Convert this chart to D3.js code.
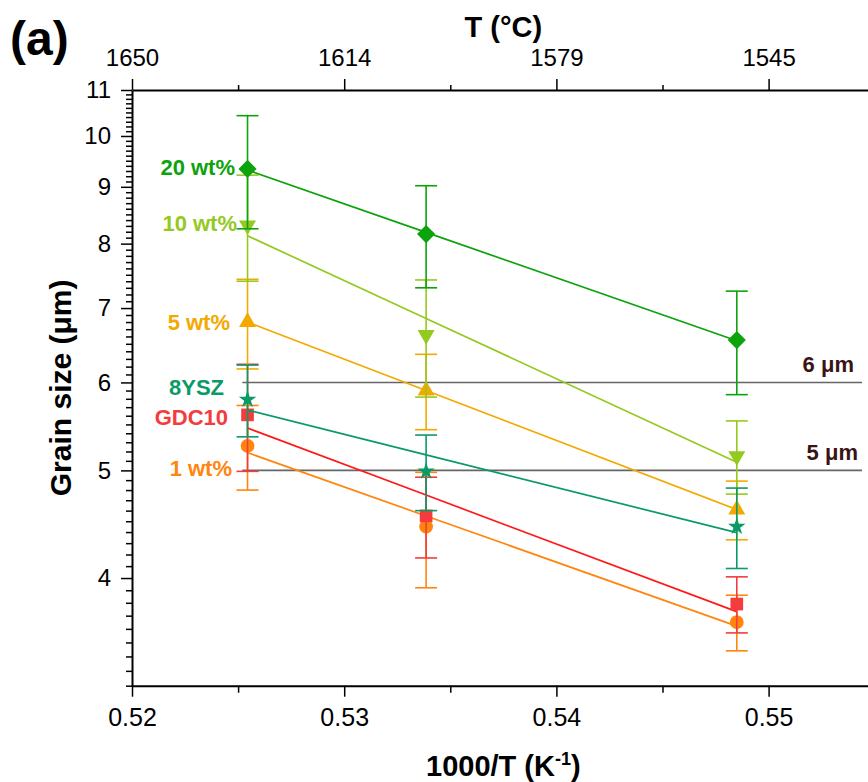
<!DOCTYPE html>
<html>
<head>
<meta charset="utf-8">
<script src="https://cdn.jsdelivr.net/npm/d3@7"></script>
<style>
  body { margin: 0; background: #fff; }
  svg { display: block; font-family: "Liberation Sans", Arial, sans-serif; }
</style>
</head>
<body>
<div id="chart"></div>
<script>
// sintering temperatures (°C)
const tempC = [1630, 1600, 1550];

// grain size (µm) and error, per composition
const seriesNames = ["1 wt%", "GDC10", "5 wt%", "10 wt%", "20 wt%", "8YSZ"];
const wt1 = [5.26, 4.45, 3.65];
const wt1Err = [0.46, 0.53, 0.21];
const gdc10 = [5.61, 4.55, 3.79];
const gdc10Err = [0.62, 0.38, 0.22];
const wt5 = [6.80, 5.90, 4.61];
const wt5Err = [0.63, 0.46, 0.28];
const wt10 = [8.31, 6.62, 5.15];
const wt10Err = [0.91, 0.80, 0.39];
const wt20 = [9.34, 8.16, 6.55];
const wt20Err = [1.09, 0.86, 0.70];
const ysz = [5.79, 4.99, 4.45];
const yszErr = [0.43, 0.39, 0.37];

// reference lines (µm)
const refLines = [6, 5];

// axis ticks
const xTicks = [0.52, 0.53, 0.54, 0.55];
const xMinor = [0.525, 0.535, 0.545, 0.555];
const yTicks = [4, 5, 6, 7, 8, 9, 10, 11];

// styles
const colors = {
  "1 wt%": "#ff850f",
  "GDC10": "#f43c3c",
  "5 wt%": "#f4a900",
  "10 wt%": "#94c91f",
  "20 wt%": "#0ca30c",
  "8YSZ": "#0a9a66"
};
const lineColors = Object.assign({}, colors, { "GDC10": "#ff1a1a" });
const shapes = {
  "1 wt%": { type: d3.symbolCircle, size: 150, rot: 0 },
  "GDC10": { type: d3.symbolSquare, size: 160, rot: 0 },
  "5 wt%": { type: d3.symbolTriangle, size: 125, rot: 0 },
  "10 wt%": { type: d3.symbolTriangle, size: 125, rot: 180 },
  "20 wt%": { type: d3.symbolSquare, size: 165, rot: 45 },
  "8YSZ": { type: d3.symbolStar, size: 95, rot: 0 }
};
// text labels placed left of the first column
const labelPos = {
  "20 wt%": [235, 175],
  "10 wt%": [237, 231],
  "5 wt%": [230, 330],
  "8YSZ": [224, 395],
  "GDC10": [228, 425],
  "1 wt%": [232, 476]
};

const values = [wt1, gdc10, wt5, wt10, wt20, ysz];
const errors = [wt1Err, gdc10Err, wt5Err, wt10Err, wt20Err, yszErr];
const invT = tempC.map(t => 1000 / (t + 273.15));

const width = 868, height = 782;
const x = d3.scaleLinear().domain([0.52, 0.555]).range([132, 874.7]);
const y = d3.scaleLog().domain([3.2, 11]).range([685.7, 90]);

const svg = d3.select("#chart").append("svg")
  .attr("width", width)
  .attr("height", height);

svg.append("rect").attr("width", width).attr("height", height).attr("fill", "#fff");

// horizontal reference lines
refLines.forEach(v => {
  svg.append("line")
    .attr("x1", x(0.5252)).attr("x2", x(0.5544))
    .attr("y1", y(v)).attr("y2", y(v))
    .attr("stroke", "#666").attr("stroke-width", 1.6);
  svg.append("text")
    .attr("x", x(0.5544) - 8 + (v === 5 ? 4 : 0))
    .attr("y", y(v) - 10)
    .attr("text-anchor", "end")
    .attr("font-size", 22).attr("font-weight", "bold")
    .attr("fill", "#3a1414")
    .text(v + " μm");
});

// least squares fit of ln(d) against 1000/T
function fitLine(xs, ys) {
  const ly = ys.map(Math.log);
  const mx = d3.mean(xs), my = d3.mean(ly);
  const sxy = d3.sum(xs, (d, i) => (d - mx) * (ly[i] - my));
  const sxx = d3.sum(xs, d => (d - mx) * (d - mx));
  const b = sxy / sxx;
  return xs.map(xv => Math.exp(my + b * (xv - mx)));
}

seriesNames.forEach((name, si) => {
  const vals = values[si], errs = errors[si];
  const col = colors[name];
  const g = svg.append("g");
  const pts = invT.map((xv, i) => ({ x: xv, v: vals[i], e: errs[i] }));

  const fit = fitLine(invT, vals);
  g.append("path")
    .datum(invT.map((xv, i) => [xv, fit[i]]))
    .attr("d", d3.line().x(d => x(d[0])).y(d => y(d[1])))
    .attr("fill", "none")
    .attr("stroke", lineColors[name])
    .attr("stroke-width", 1.7);

  // error bars
  const eb = g.selectAll(".eb").data(pts).enter().append("g");
  eb.append("line")
    .attr("x1", d => x(d.x)).attr("x2", d => x(d.x))
    .attr("y1", d => y(d.v - d.e)).attr("y2", d => y(d.v + d.e))
    .attr("stroke", col).attr("stroke-width", 1.6);
  [-1, 1].forEach(s => {
    eb.append("line")
      .attr("x1", d => x(d.x) - 11).attr("x2", d => x(d.x) + 11)
      .attr("y1", d => y(d.v + s * d.e)).attr("y2", d => y(d.v + s * d.e))
      .attr("stroke", col).attr("stroke-width", 1.6);
  });

  const sh = shapes[name];
  g.selectAll(".mk").data(pts).enter().append("path")
    .attr("d", d3.symbol().type(sh.type).size(sh.size))
    .attr("transform", d => `translate(${x(d.x)},${y(d.v)}) rotate(${sh.rot})`)
    .attr("fill", col);

  svg.append("text")
    .attr("x", labelPos[name][0]).attr("y", labelPos[name][1])
    .attr("text-anchor", "end")
    .attr("font-size", 22).attr("font-weight", "bold")
    .attr("fill", col)
    .text(name);
});

// axes
function styleAxis(g, fs) {
  g.select(".domain").attr("stroke", "#000").attr("stroke-width", 2);
  g.selectAll(".tick line").attr("stroke", "#000").attr("stroke-width", 1.5);
  g.selectAll(".tick text").attr("fill", "#000").attr("font-size", fs)
    .attr("font-family", "'Liberation Sans', Arial, sans-serif");
}

const yMinor = d3.range(32, 111).map(d => d / 10).filter(d => d % 1 !== 0);
svg.append("g")
  .attr("transform", `translate(${x(0.52)},0)`)
  .call(d3.axisLeft(y).tickValues(yMinor).tickSize(6).tickFormat(""))
  .call(g => g.select(".domain").remove())
  .call(g => g.selectAll(".tick line").attr("stroke", "#000").attr("stroke-width", 1.5));
svg.append("g")
  .attr("transform", `translate(${x(0.52)},0)`)
  .call(d3.axisLeft(y).tickValues(yTicks).tickSize(11).tickSizeOuter(0).tickPadding(10).tickFormat(d3.format("d")))
  .call(g => styleAxis(g, 24));

svg.append("g")
  .attr("transform", `translate(0,${y(3.2)})`)
  .call(d3.axisBottom(x).tickValues(xMinor).tickSize(7).tickFormat(""))
  .call(g => g.select(".domain").remove())
  .call(g => g.selectAll(".tick line").attr("stroke", "#000").attr("stroke-width", 1.5));
svg.append("g")
  .attr("transform", `translate(0,${y(3.2)})`)
  .call(d3.axisBottom(x).tickValues(xTicks).tickSize(11).tickSizeOuter(0).tickPadding(12).tickFormat(d3.format(".2f")))
  .call(g => styleAxis(g, 25));

svg.append("g")
  .attr("transform", `translate(0,${y(11)})`)
  .call(d3.axisTop(x).tickValues(xMinor).tickSize(5).tickFormat(""))
  .call(g => g.select(".domain").remove())
  .call(g => g.selectAll(".tick line").attr("stroke", "#000").attr("stroke-width", 1.5));
svg.append("g")
  .attr("transform", `translate(0,${y(11)})`)
  .call(d3.axisTop(x).tickValues(xTicks).tickSize(11).tickSizeOuter(0).tickPadding(13)
    .tickFormat(d => Math.round(1000 / d - 273.15)))
  .call(g => styleAxis(g, 24));

// titles
const midX = (x.range()[0] + x.range()[1]) / 2;
svg.append("text")
  .attr("x", midX).attr("y", 37)
  .attr("text-anchor", "middle")
  .attr("font-size", 29).attr("font-weight", "bold")
  .text("T (°C)");

const xt = svg.append("text")
  .attr("x", midX).attr("y", 776)
  .attr("text-anchor", "middle")
  .attr("font-size", 29).attr("font-weight", "bold");
xt.append("tspan").text("1000/T (K");
xt.append("tspan").attr("font-size", 18).attr("dy", -11).text("-1");
xt.append("tspan").attr("dy", 11).text(")");

svg.append("text")
  .attr("transform", `translate(71,${(y.range()[0] + y.range()[1]) / 2}) rotate(-90)`)
  .attr("text-anchor", "middle")
  .attr("font-size", 30).attr("font-weight", "bold")
  .text("Grain size (μm)");

svg.append("text")
  .attr("x", 10).attr("y", 55)
  .attr("font-size", 48).attr("font-weight", "bold")
  .text("(a)");
</script>
</body>
</html>
